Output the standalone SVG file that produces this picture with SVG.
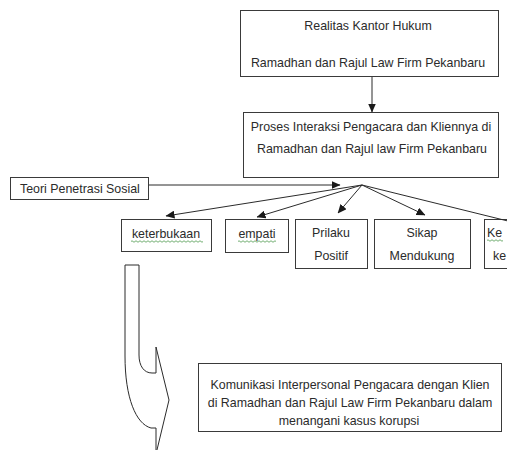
<svg xmlns="http://www.w3.org/2000/svg" width="507" height="450" viewBox="0 0 507 450">
<defs>
<style>
.box{fill:#fff;stroke:#3a3a3a;stroke-width:1}
.t{font-family:"Liberation Sans",Arial,sans-serif;font-size:12.4px;fill:#2b2b2b}
.c{text-anchor:middle}
.ln{stroke:#2b2b2b;stroke-width:1;fill:none}
.sq{stroke:#4f9a4f;stroke-width:0.8;fill:none}
</style>
<marker id="ah" markerWidth="9" markerHeight="8" refX="8.5" refY="4" orient="auto" markerUnits="userSpaceOnUse">
<path d="M0,0 L9,4 L0,8 Z" fill="#1a1a1a"/>
</marker>
</defs>
<rect width="507" height="450" fill="#fff"/>

<g id="realitas">
<rect class="box" x="240.5" y="10.5" width="258" height="66"/>
<text class="t c" x="368" y="30">Realitas Kantor Hukum</text>
<text class="t c" x="368" y="67">Ramadhan dan Rajul Law Firm Pekanbaru</text>
</g>

<g id="proses">
<rect class="box" x="243.5" y="112.5" width="255" height="65"/>
<text class="t c" x="371" y="131">Proses Interaksi Pengacara dan Kliennya di</text>
<text class="t c" x="372" y="153">Ramadhan dan Rajul law Firm Pekanbaru</text>
</g>

<g id="teori">
<rect class="box" x="10.5" y="177.5" width="138" height="22"/>
<text class="t" x="20" y="193">Teori Penetrasi Sosial</text>
</g>

<g id="keterbukaan">
<rect class="box" x="121.5" y="219.5" width="90" height="32"/>
<text class="t c" x="166" y="238">keterbukaan</text>
<path class="sq" d="M131,241.5 q1,-1.5 2,0 t2,0 t2,0 t2,0 t2,0 t2,0 t2,0 t2,0 t2,0 t2,0 t2,0 t2,0 t2,0 t2,0 t2,0 t2,0 t2,0 t2,0 t2,0 t2,0 t2,0 t2,0 t2,0 t2,0 t2,0 t2,0 t2,0 t2,0 t2,0 t2,0 t2,0 t2,0 t2,0 t2,0 t2,0 t2,0"/>
</g>

<g id="empati">
<rect class="box" x="225.5" y="219.5" width="63" height="33"/>
<text class="t c" x="257" y="238">empati</text>
<path class="sq" d="M238,241.5 q1,-1.5 2,0 t2,0 t2,0 t2,0 t2,0 t2,0 t2,0 t2,0 t2,0 t2,0 t2,0 t2,0 t2,0 t2,0 t2,0 t2,0 t2,0 t2,0 t2,0"/>
</g>

<g id="prilaku">
<rect class="box" x="295.5" y="219.5" width="72" height="49"/>
<text class="t c" x="331" y="237">Prilaku</text>
<text class="t c" x="331" y="260">Positif</text>
</g>

<g id="sikap">
<rect class="box" x="374.5" y="219.5" width="96" height="49"/>
<text class="t c" x="422" y="237">Sikap</text>
<text class="t c" x="422" y="260">Mendukung</text>
</g>

<g id="ke">
<rect class="box" x="484.5" y="219.5" width="40" height="49"/>
<text class="t" x="487" y="237">Ke</text>
<text class="t" x="493" y="260">ke</text>
<path class="sq" d="M487,240.5 q1,-1.5 2,0 t2,0 t2,0 t2,0 t2,0 t2,0 t2,0 t2,0"/>
</g>

<g id="komunikasi">
<rect class="box" x="198.5" y="363.5" width="303" height="68"/>
<text class="t c" x="350" y="389">Komunikasi Interpersonal Pengacara dengan Klien</text>
<text class="t c" x="350" y="407">di Ramadhan dan Rajul Law Firm Pekanbaru dalam</text>
<text class="t c" x="349" y="425">menangani kasus korupsi</text>
</g>

<g id="connectors">
<line class="ln" x1="372" y1="77" x2="372" y2="112" marker-end="url(#ah)"/>
<line class="ln" x1="149" y1="185" x2="340" y2="185" marker-end="url(#ah)"/>
<line class="ln" x1="362" y1="185" x2="166" y2="216" marker-end="url(#ah)"/>
<line class="ln" x1="362" y1="185" x2="257" y2="217" marker-end="url(#ah)"/>
<line class="ln" x1="362" y1="185" x2="338" y2="213" marker-end="url(#ah)"/>
<line class="ln" x1="362" y1="185" x2="425" y2="215" marker-end="url(#ah)"/>
<line class="ln" x1="362" y1="185" x2="520" y2="224"/>
<path class="ln" stroke="#4a4a4a" d="M125,265 L139,265 L139,355 C139,366 144,373 152,373 L156,373 L156,347 L169,400 L156,454 L156,428 L151,428 C136,424 125,398 125,356 Z"/>
</g>
</svg>
